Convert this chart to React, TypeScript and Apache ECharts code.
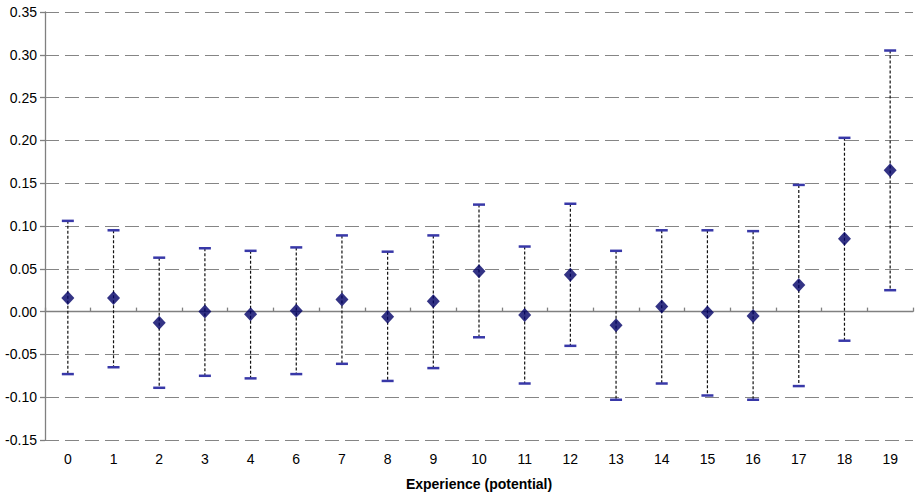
import React, { useEffect, useRef } from "react";
import * as echarts from "echarts";

// Experience levels (years of potential experience); 5 is not reported
const categories = ["0", "1", "2", "3", "4", "6", "7", "8", "9", "10", "11", "12", "13", "14", "15", "16", "17", "18", "19"];
// Point estimates
const estimates = [0.016, 0.016, -0.013, 0.0, -0.003, 0.001, 0.014, -0.006, 0.012, 0.047, -0.004, 0.043, -0.016, 0.006, -0.001, -0.005, 0.031, 0.085, 0.165];
// Upper confidence bounds
const upperBounds = [0.106, 0.095, 0.063, 0.074, 0.071, 0.075, 0.089, 0.070, 0.089, 0.125, 0.076, 0.126, 0.071, 0.095, 0.095, 0.094, 0.148, 0.203, 0.305];
// Lower confidence bounds
const lowerBounds = [-0.073, -0.065, -0.089, -0.075, -0.078, -0.073, -0.061, -0.081, -0.066, -0.030, -0.084, -0.040, -0.103, -0.084, -0.098, -0.103, -0.087, -0.034, 0.025];

const FONT = "'Liberation Sans', Arial, sans-serif";

export default function App() {
  const ref = useRef<HTMLDivElement>(null);

  useEffect(() => {
    if (!ref.current) return;
    document.body.style.margin = "0";
    document.body.style.overflow = "hidden";
    const chart = echarts.init(ref.current, undefined, { renderer: "svg" });

    const intervalData = categories.map((_, i) => [i, lowerBounds[i], upperBounds[i]]);

    chart.setOption({
      animation: false,
      backgroundColor: "#ffffff",
      grid: { left: 45, right: 6, top: 12, bottom: 53, containLabel: false },
      xAxis: {
        type: "category",
        data: categories,
        boundaryGap: true,
        name: "Experience (potential)",
        nameLocation: "middle",
        nameGap: 37,
        nameTextStyle: { fontFamily: FONT, fontSize: 14, fontWeight: "bold", color: "#000" },
        axisLine: { lineStyle: { color: "#808080", width: 1.3 } },
        axisTick: { show: true, inside: true, alignWithLabel: false, length: 4, lineStyle: { color: "#808080", width: 1.3 } },
        axisLabel: { fontFamily: FONT, fontSize: 14, color: "#000", margin: 12 },
        splitLine: { show: false },
      },
      yAxis: {
        type: "value",
        min: -0.15,
        max: 0.35,
        interval: 0.05,
        axisLine: { show: true, lineStyle: { color: "#808080", width: 1.3 } },
        axisTick: { show: true, length: 5, lineStyle: { color: "#808080", width: 1.3 } },
        axisLabel: {
          fontFamily: FONT,
          fontSize: 14,
          color: "#000",
          margin: 8,
          formatter: (v: number) => v.toFixed(2),
        },
        splitLine: { show: true, lineStyle: { color: "#858585", type: [14, 6], width: 1.2 } },
      },
      series: [
        {
          type: "custom",
          name: "interval",
          data: intervalData,
          encode: { x: 0, y: [1, 2] },
          z: 2,
          renderItem: (params: any, api: any) => {
            const idx = api.value(0);
            const lo = api.coord([idx, api.value(1)]);
            const hi = api.coord([idx, api.value(2)]);
            const capHalf = 6;
            const capStyle = { stroke: "#3838a8", lineWidth: 2.5 };
            return {
              type: "group",
              children: [
                {
                  type: "line",
                  shape: { x1: hi[0], y1: hi[1], x2: lo[0], y2: lo[1] },
                  style: { stroke: "#111111", lineWidth: 1.2, lineDash: [3, 2] },
                },
                {
                  type: "line",
                  shape: { x1: hi[0] - capHalf, y1: hi[1], x2: hi[0] + capHalf, y2: hi[1] },
                  style: capStyle,
                },
                {
                  type: "line",
                  shape: { x1: lo[0] - capHalf, y1: lo[1], x2: lo[0] + capHalf, y2: lo[1] },
                  style: capStyle,
                },
              ],
            };
          },
        },
        {
          type: "scatter",
          name: "estimate",
          data: estimates,
          symbol: "diamond",
          symbolSize: [13, 14],
          itemStyle: { color: "#000066" },
          z: 3,
        },
      ],
    });

    return () => chart.dispose();
  }, []);

  return <div ref={ref} style={{ width: 919, height: 496, position: "absolute", left: 0, top: 0 }} />;
}
